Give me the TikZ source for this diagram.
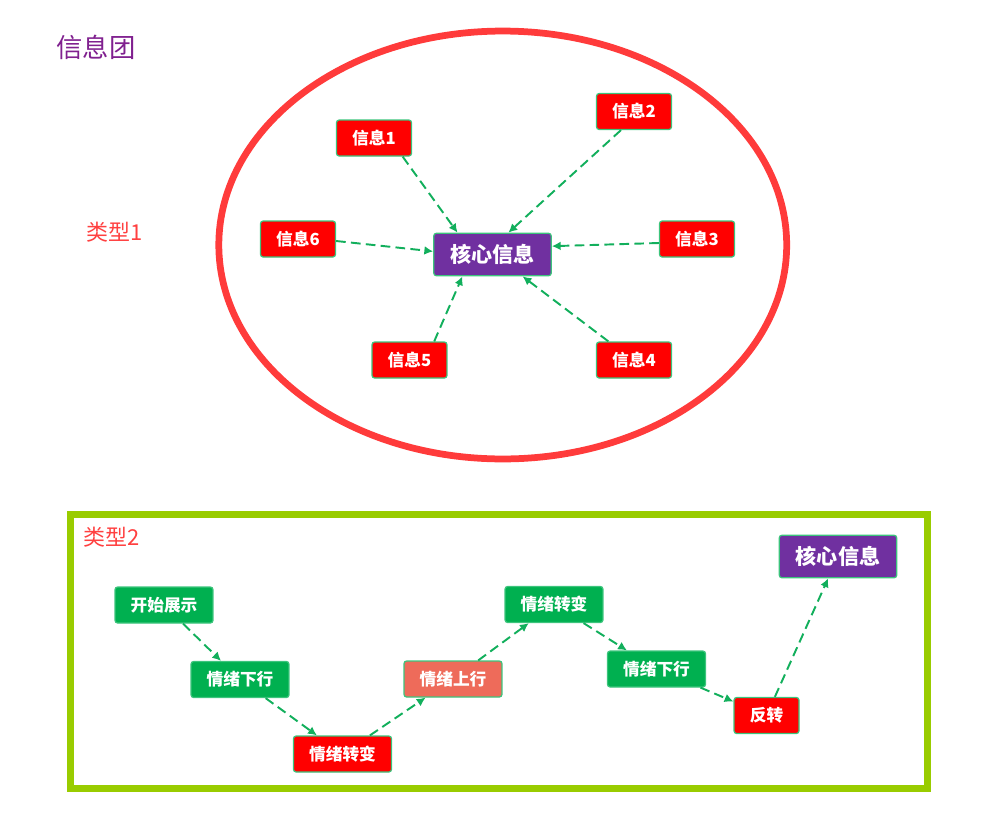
\documentclass[tikz,border=0pt]{standalone}
\usepackage{fontspec}
\setmainfont{Noto Sans CJK SC}
\usepackage{tikz}
\usetikzlibrary{positioning, arrows.meta, calc}
\usepackage{xcolor}

\definecolor{titlepurple}{HTML}{80208F}
\definecolor{typered}{HTML}{FF4040}
\definecolor{ringred}{HTML}{FF3B3B}
\definecolor{infored}{HTML}{FF0000}
\definecolor{corepurple}{HTML}{7030A0}
\definecolor{moodgreen}{HTML}{00B050}
\definecolor{risered}{HTML}{EE6B5A}
\definecolor{linkgreen}{HTML}{12AF5C}
\definecolor{boxline}{HTML}{3CC47C}
\definecolor{framegreen}{HTML}{99CC00}

\begin{document}
\begin{tikzpicture}[
    x=0.02cm, y=-0.02cm,
    box/.style={draw=boxline, line width=0.7pt, rounded corners=1.5pt, text=white,
        inner sep=0pt, minimum height=0.72cm, font=\bfseries\fontsize{9.5}{11}\selectfont},
    info/.style={box, fill=infored, minimum width=1.5cm},
    core/.style={box, fill=corepurple, minimum width=2.35cm, minimum height=0.85cm,
        font=\bfseries\fontsize{12}{14}\selectfont},
    mood/.style={box, fill=moodgreen, minimum width=1.96cm},
    link/.style={color=linkgreen, line width=1.1pt, dash pattern=on 5.5pt off 3pt,
        -{Latex[length=5pt,width=5pt]}},
    caption/.style={text=typered, font=\fontsize{12.5}{14}\selectfont}
]
    \useasboundingbox (0,0) rectangle (991,812);

    % Type 1: information cluster
    \node[text=titlepurple, font=\fontsize{15}{18}\selectfont] (title) at (96,47) {信息团};
    \node[caption] (type1) at (115,232) {类型1};
    \draw[ringred, line width=0.135cm] (502.75,245) ellipse [x radius=5.68cm, y radius=4.28cm];

    \node[core] (core) at (492.5,254.5) {核心信息};
    \node[info] (i1) at (374,138) {信息1};
    \node[info] (i2) at (634,111.5) {信息2};
    \node[info] (i3) at (697,239) {信息3};
    \node[info] (i4) at (634,360) {信息4};
    \node[info] (i5) at (409.5,360) {信息5};
    \node[info] (i6) at (298,239) {信息6};

    \path[link]
        (i1.-33) edge (core.148)
        (i2.-125) edge (core.54)
        (i3.186) edge (core.8)
        (i4.144) edge (core.-36)
        (i5.37) edge (core.216)
        (i6.-3) edge (core.177);

    % Type 2: emotional line
    \draw[framegreen, line width=0.14cm] (70.5,514.5) rectangle (927.5,788.5);
    \node[caption] (type2) at (112,537) {类型2};

    \node[mood] (m1) at (164,605) {开始展示};
    \node[mood] (m2) at (240,679.5) {情绪下行};
    \node[box, fill=infored, minimum width=1.96cm] (m3) at (342.5,754) {情绪转变};
    \node[box, fill=risered, minimum width=1.96cm] (m4) at (453,679) {情绪上行};
    \node[mood] (m5) at (554,604.5) {情绪转变};
    \node[mood] (m6) at (656.5,669) {情绪下行};
    \node[box, fill=infored, minimum width=1.3cm] (m7) at (766.5,715.5) {反转};
    \node[core] (goal) at (838,556.5) {核心信息};

    \path[link]
        (m1) edge (m2)
        (m2) edge (m3)
        (m3) edge (m4)
        (m4) edge (m5)
        (m5) edge (m6)
        (m6) edge (m7)
        (m7) edge (goal);
\end{tikzpicture}
\end{document}
